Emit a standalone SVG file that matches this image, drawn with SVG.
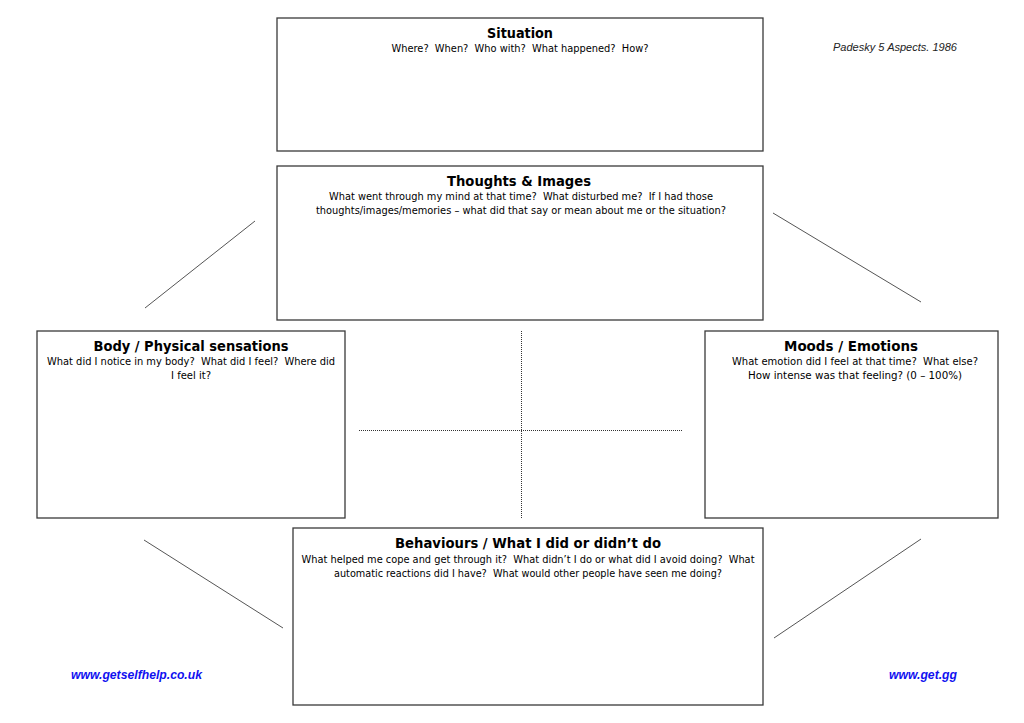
<svg xmlns="http://www.w3.org/2000/svg" width="1024" height="723" viewBox="0 0 1024 723">
<style>
.box{fill:#fff;stroke:#3a3a3a;stroke-width:1.3}
.t{font-family:"DejaVu Sans",Verdana,sans-serif;font-weight:bold;font-size:14.5px;fill:#000;text-anchor:middle}
.s{font-family:"DejaVu Sans",Verdana,sans-serif;font-size:11px;fill:#000;text-anchor:middle;white-space:pre}
.d{stroke:#555;stroke-width:1;fill:none}
.dot{stroke:#333;stroke-width:1;stroke-dasharray:1 1;fill:none}
.web{font-family:"Liberation Sans",Arial,sans-serif;font-weight:bold;font-style:italic;font-size:12px;fill:#1010f0}
</style>
<rect width="1024" height="723" fill="#fff"/>
<g id="connectors">
<line class="d" x1="255" y1="221" x2="145" y2="308"/>
<line class="d" x1="773" y1="213" x2="921" y2="302"/>
<line class="d" x1="144" y1="540" x2="283" y2="628"/>
<line class="d" x1="921" y1="539" x2="774" y2="638"/>
<line class="dot" x1="521.5" y1="331" x2="521.5" y2="518"/>
<line class="dot" x1="359" y1="430.5" x2="683" y2="430.5"/>
</g>
<g id="situation">
<rect class="box" x="277" y="18" width="486" height="133"/>
<text class="t" x="520" y="37.5" textLength="66" lengthAdjust="spacingAndGlyphs">Situation</text>
<text class="s" x="520" y="51.5" textLength="257" lengthAdjust="spacingAndGlyphs">Where?  When?  Who with?  What happened?  How?</text>
</g>
<g id="thoughts">
<rect class="box" x="277" y="166" width="486" height="154"/>
<text class="t" x="519" y="185.5" textLength="144" lengthAdjust="spacingAndGlyphs">Thoughts &amp; Images</text>
<text class="s" x="521" y="200" textLength="384" lengthAdjust="spacingAndGlyphs">What went through my mind at that time?  What disturbed me?  If I had those</text>
<text class="s" x="521" y="214" textLength="410" lengthAdjust="spacingAndGlyphs">thoughts/images/memories – what did that say or mean about me or the situation?</text>
</g>
<g id="body">
<rect class="box" x="37" y="331" width="308" height="187"/>
<text class="t" x="191" y="350.5" textLength="195" lengthAdjust="spacingAndGlyphs">Body / Physical sensations</text>
<text class="s" x="191" y="365" textLength="288" lengthAdjust="spacingAndGlyphs">What did I notice in my body?  What did I feel?  Where did</text>
<text class="s" x="191" y="378.5" textLength="40" lengthAdjust="spacingAndGlyphs">I feel it?</text>
</g>
<g id="moods">
<rect class="box" x="705" y="331" width="293" height="187"/>
<text class="t" x="851" y="350.5" textLength="134" lengthAdjust="spacingAndGlyphs">Moods / Emotions</text>
<text class="s" x="855" y="364.5" textLength="246" lengthAdjust="spacingAndGlyphs">What emotion did I feel at that time?  What else?</text>
<text class="s" x="855" y="378.5" textLength="214" lengthAdjust="spacingAndGlyphs">How intense was that feeling? (0 – 100%)</text>
</g>
<g id="behaviours">
<rect class="box" x="293" y="528" width="470" height="177"/>
<text class="t" x="528" y="547.5" textLength="266" lengthAdjust="spacingAndGlyphs">Behaviours / What I did or didn’t do</text>
<text class="s" x="528" y="562.5" textLength="453" lengthAdjust="spacingAndGlyphs">What helped me cope and get through it?  What didn’t I do or what did I avoid doing?  What</text>
<text class="s" x="528" y="576.5" textLength="388" lengthAdjust="spacingAndGlyphs">automatic reactions did I have?  What would other people have seen me doing?</text>
</g>
<g id="labels">
<text x="833" y="51" font-family="Liberation Sans, Arial, sans-serif" font-style="italic" font-size="11.5" fill="#222" textLength="124" lengthAdjust="spacingAndGlyphs">Padesky 5 Aspects. 1986</text>
<text class="web" x="71" y="679" textLength="131" lengthAdjust="spacingAndGlyphs">www.getselfhelp.co.uk</text>
<text class="web" x="889" y="679" textLength="68" lengthAdjust="spacingAndGlyphs">www.get.gg</text>
</g>
</svg>
